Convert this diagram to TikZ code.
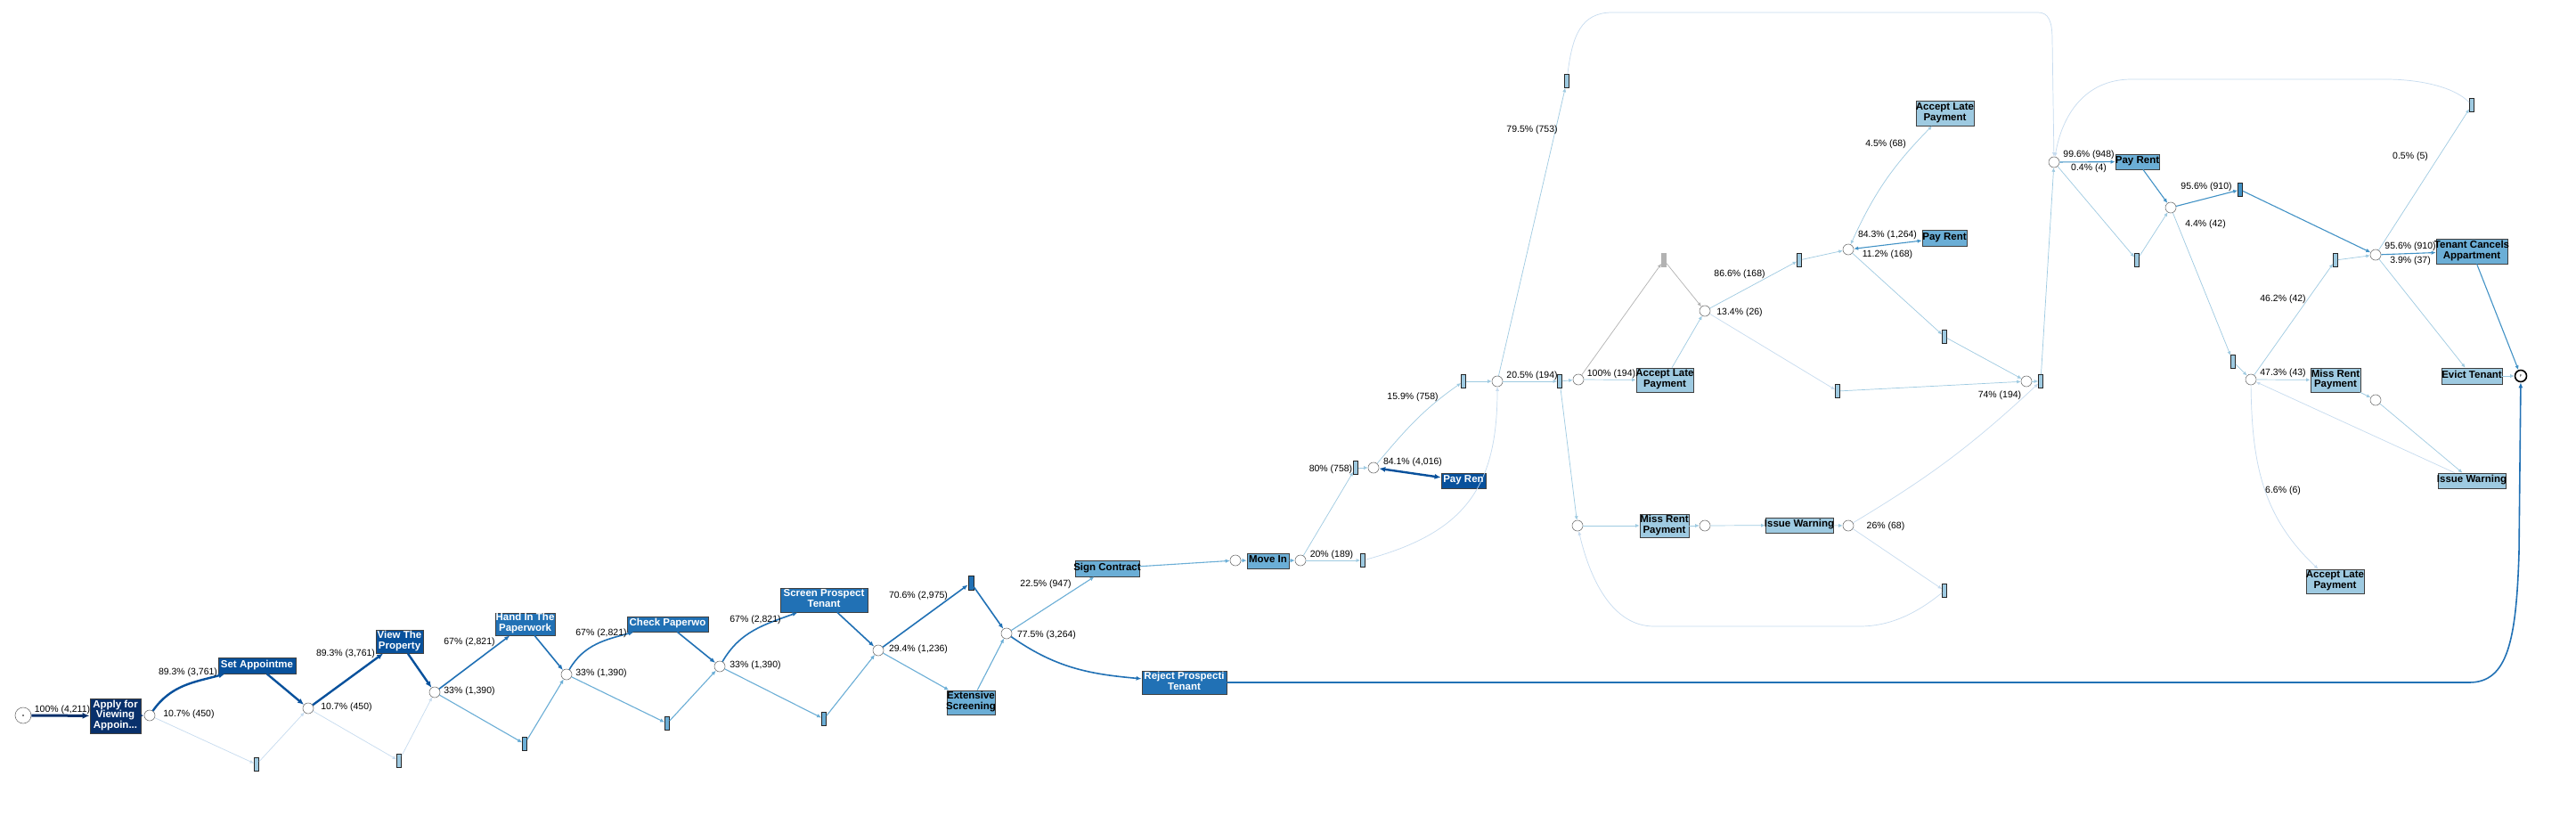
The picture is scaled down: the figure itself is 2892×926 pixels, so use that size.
\documentclass[tikz,border=0pt]{standalone}
\usepackage{fontspec}
\setmainfont{Liberation Sans}
\usetikzlibrary{arrows.meta}

\definecolor{cA}{HTML}{08306B}
\definecolor{cB}{HTML}{08519C}
\definecolor{cC}{HTML}{2171B5}
\definecolor{cD}{HTML}{4292C6}
\definecolor{cE}{HTML}{6BAED6}
\definecolor{cF}{HTML}{9ECAE1}
\definecolor{cG}{HTML}{C6DBEF}

\newcommand{\lblfont}{\fontsize{10.5}{12}\selectfont}
\newcommand{\taskfont}{\fontsize{11.5}{11.7}\selectfont\bfseries}
\newcommand{\tasktext}[1]{\makebox[0pt]{\begin{tabular}{@{}c@{}}#1\end{tabular}}}

\tikzset{
  place/.style={circle, draw=black!55, line width=0.6pt, fill=white, minimum size=12pt, inner sep=0pt},
  silent/.style={rectangle, draw=black!85, line width=0.7pt, minimum width=5pt, minimum height=15pt, inner sep=0pt},
  task/.style={rectangle, draw=black!75, line width=0.8pt, inner sep=0pt, font=\taskfont},
  lbl/.style={inner sep=0pt, font=\lblfont},
  edgeA/.style={draw=cA, line width=3pt, ->, >={Latex[length=8pt,width=7pt]}},
  edgeB/.style={draw=cB, line width=2.4pt, ->, >={Latex[length=7pt,width=6pt]}},
  edgeC/.style={draw=cC, line width=1.6pt, ->, >={Latex[length=6pt,width=5pt]}},
  edgeD/.style={draw=cD, line width=1.1pt, ->, >={Latex[length=5pt,width=4.5pt]}},
  edgeE/.style={draw=cE, line width=1.1pt, ->, >={Latex[length=5pt,width=4.5pt]}},
  edgeF/.style={draw=cF, line width=0.7pt, ->, >={Latex[length=4.5pt,width=4pt]}},
  edgeG/.style={draw=cG, line width=0.7pt, ->, >={Latex[length=4.5pt,width=4pt]}},
  edgeH/.style={draw=black!30, line width=0.7pt, ->, >={Latex[length=4.5pt,width=4pt]}}
}

\begin{document}
\begin{tikzpicture}[x=1pt,y=1pt]
\fill[white] (0,0) rectangle (2892,-926);
\useasboundingbox (0,0) rectangle (2892,-926);

\node[place, minimum size=18pt] (start) at (26,-803) {};
\fill[black] (start.center) circle (0.9);
\node[place] (p1) at (168,-803) {};
\node[place] (p2) at (346,-795) {};
\node[place] (p3) at (488,-777) {};
\node[place] (p4) at (636,-757) {};
\node[place] (p5) at (808,-748) {};
\node[place] (p6) at (986,-730) {};
\node[place] (p7) at (1130,-711) {};
\node[place] (pm) at (1387,-629) {};
\node[place] (p8) at (1460,-629) {};
\node[place] (p9) at (1542,-525) {};
\node[place] (p10) at (1681,-428) {};
\node[place] (p11) at (1772,-426) {};
\node[place] (p12) at (1771,-590) {};
\node[place] (p13) at (2306,-182) {};
\node[place] (p14) at (1914,-349) {};
\node[place] (p15) at (2075,-280) {};
\node[place] (p16) at (2275,-428) {};
\node[place] (p17) at (1914,-590) {};
\node[place] (p18) at (2075,-590) {};
\node[place] (p19) at (2437,-233) {};
\node[place] (p20) at (2667,-286) {};
\node[place] (p21) at (2527,-426) {};
\node[place] (p22) at (2667,-449) {};
\node[place, draw=black, line width=1.6pt, minimum size=13pt] (end) at (2830,-422) {\fontsize{4}{4}\selectfont F};

\node[silent, fill=cF] (ta1) at (288,-858) {};
\node[silent, fill=cF] (ta2) at (448,-854) {};
\node[silent, fill=cE] (ta3) at (589,-835) {};
\node[silent, fill=cE] (ta4) at (749,-812) {};
\node[silent, fill=cE] (ta5) at (925,-807) {};
\node[silent, fill=cC, minimum width=6pt, minimum height=16pt] (ta6) at (1090,-654) {};
\node[silent, fill=cF] (ta7) at (1530,-629) {};
\node[silent, fill=cF] (ta8) at (1522,-525) {};
\node[silent, fill=cF] (ta9) at (1643,-428) {};
\node[silent, fill=cF] (ta10) at (1751,-428) {};
\node[silent, fill=cF] (ta11) at (1759,-91) {};
\node[silent, fill=black!30, draw=black!30] (tgray) at (1868,-292) {};
\node[silent, fill=cF] (ta12) at (2020,-292) {};
\node[silent, fill=cF] (ta13) at (2183,-378) {};
\node[silent, fill=cF] (ta14) at (2063,-439) {};
\node[silent, fill=cF] (ta15) at (2291,-428) {};
\node[silent, fill=cF] (ta16) at (2183,-663) {};
\node[silent, fill=cD] (ta17) at (2515,-213) {};
\node[silent, fill=cF] (ta18) at (2399,-292) {};
\node[silent, fill=cF] (ta19) at (2775,-118) {};
\node[silent, fill=cF] (ta20) at (2622,-292) {};
\node[silent, fill=cF] (ta21) at (2507,-406) {};

\node[task, fill=cA, text=white, minimum width=57pt, minimum height=39pt] (apply) at (129.5,-803.5) {\tasktext{Apply for\\Viewing\\Appoin...}};
\node[task, fill=cB, text=white, minimum width=87pt, minimum height=18pt] (setapp) at (288.5,-747) {\tasktext{Set Appointme}};
\node[task, fill=cB, text=white, minimum width=53pt, minimum height=26pt] (view) at (448.5,-720) {\tasktext{View The\\Property}};
\node[task, fill=cC, text=white, minimum width=67pt, minimum height=25pt] (handin) at (589.5,-700.5) {\tasktext{Hand In The\\Paperwork}};
\node[task, fill=cC, text=white, minimum width=91pt, minimum height=17pt] (check) at (749.5,-700.5) {\tasktext{Check Paperwo}};
\node[task, fill=cC, text=white, minimum width=98pt, minimum height=27pt] (screen) at (925,-673.5) {\tasktext{Screen Prospect\\Tenant}};
\node[task, fill=cE, minimum width=54pt, minimum height=27pt] (extensive) at (1090,-788.5) {\tasktext{Extensive\\Screening}};
\node[task, fill=cC, text=white, minimum width=95pt, minimum height=26pt] (reject) at (1329.5,-766) {\tasktext{Reject Prospecti\\Tenant}};
\node[task, fill=cE, minimum width=72pt, minimum height=18pt] (sign) at (1243,-638) {\tasktext{Sign Contract}};
\node[task, fill=cE, minimum width=47pt, minimum height=17pt] (movein) at (1423.5,-629.5) {\tasktext{Move In}};
\node[task, fill=cB, text=white, minimum width=50pt, minimum height=17pt] (payren) at (1643,-539.5) {\tasktext{Pay Ren}};
\node[task, fill=cF, minimum width=64pt, minimum height=27pt] (accept1) at (1869,-426.5) {\tasktext{Accept Late\\Payment}};
\node[task, fill=cF, minimum width=65pt, minimum height=28pt] (accept2) at (2183.5,-127) {\tasktext{Accept Late\\Payment}};
\node[task, fill=cE, minimum width=50pt, minimum height=18pt] (payrent2) at (2183,-267) {\tasktext{Pay Rent}};
\node[task, fill=cF, minimum width=55pt, minimum height=26pt] (missrent1) at (1868.5,-590) {\tasktext{Miss Rent\\Payment}};
\node[task, fill=cF, minimum width=76pt, minimum height=17pt] (warn1) at (2020,-589.5) {\tasktext{Issue Warning}};
\node[task, fill=cE, minimum width=49pt, minimum height=17pt] (payrent3) at (2399.5,-181.5) {\tasktext{Pay Rent}};
\node[task, fill=cE, minimum width=80pt, minimum height=28pt] (cancel) at (2775,-282) {\tasktext{Tenant Cancels\\Appartment}};
\node[task, fill=cF, minimum width=56pt, minimum height=27pt] (missrent2) at (2622,-426.5) {\tasktext{Miss Rent\\Payment}};
\node[task, fill=cF, minimum width=68pt, minimum height=18pt] (evict) at (2775,-422) {\tasktext{Evict Tenant}};
\node[task, fill=cF, minimum width=76pt, minimum height=17pt] (warn2) at (2775,-539.5) {\tasktext{Issue Warning}};
\node[task, fill=cF, minimum width=65pt, minimum height=27pt] (accept3) at (2621.5,-652.5) {\tasktext{Accept Late\\Payment}};

\draw[edgeA] (start) -- (apply);
\draw[edgeA] (apply) -- (p1);
\draw[edgeB] (p1) to[out=55,in=195] ([xshift=8pt]setapp.south west);
\draw[edgeG] (p1) -- (ta1);
\draw[edgeB] (setapp) -- (p2);
\draw[edgeG] (ta1) -- (p2);
\draw[edgeB] (p2) -- (view);
\draw[edgeG] (p2) -- (ta2);
\draw[edgeB] (view) -- (p3);
\draw[edgeG] (ta2) -- (p3);
\draw[edgeC] (p3) -- (handin);
\draw[edgeE] (p3) -- (ta3);
\draw[edgeC] (handin) -- (p4);
\draw[edgeE] (ta3) -- (p4);
\draw[edgeC] (p4) to[out=60,in=195] ([xshift=8pt]check.south west);
\draw[edgeE] (p4) -- (ta4);
\draw[edgeC] (check) -- (p5);
\draw[edgeE] (ta4) -- (p5);
\draw[edgeC] (p5) to[out=60,in=200] ([xshift=20pt]screen.south west);
\draw[edgeE] (p5) -- (ta5);
\draw[edgeC] (screen) -- (p6);
\draw[edgeE] (ta5) -- (p6);
\draw[edgeC] (p6) -- (ta6);
\draw[edgeE] (p6) -- (extensive);
\draw[edgeC] (ta6) -- (p7);
\draw[edgeE] (extensive) -- (p7);
\draw[edgeE] (p7) -- (sign);
\draw[edgeC] (p7) to[out=-35,in=175] (reject);
\draw[edgeE] (sign) -- (pm);
\draw[edgeE] (pm) -- (movein);
\draw[edgeE] (movein) -- (p8);
\draw[edgeF] (p8) -- (ta8);
\draw[edgeF] (p8) -- (ta7);
\draw[edgeF] (ta8) -- (p9);
\draw[edgeB, <->] (p9) -- (payren);
\draw[edgeF] (p9) to[out=50,in=215] (ta9);
\draw[edgeF] (ta9) -- (p10);
\draw[edgeG] (ta7) to[out=15,in=-90,looseness=1.2] (p10);
\draw[edgeF] (p10) -- (ta11);
\draw[edgeF] (p10) -- (ta10);
\draw[edgeG] (ta11) .. controls (1765,-40) and (1775,-14) .. (1810,-14) -- (2288,-14) .. controls (2300,-14) and (2304,-24) .. (2304,-45) -- (p13);
\draw[edgeF] (ta10) -- (p11);
\draw[edgeF] (ta10) -- (p12);
\draw[edgeF] (p11) -- (accept1);
\draw[edgeH] (p11) -- (tgray);
\draw[edgeH] (tgray) -- (p14);
\draw[edgeF] (accept1) -- (p14);
\draw[edgeF] (p14) -- (ta12);
\draw[edgeG] (p14) -- (ta14);
\draw[edgeF] (ta12) -- (p15);
\draw[edgeD, <->] (p15) -- (payrent2);
\draw[edgeF, <->] (p15) to[bend left=10] (accept2);
\draw[edgeF] (p15) -- (ta13);
\draw[edgeF] (ta13) -- (p16);
\draw[edgeF] (ta14) -- (p16);
\draw[edgeF] (p16) -- (ta15);
\draw[edgeF] (ta15) -- (p13);
\draw[edgeF] (p12) -- (missrent1);
\draw[edgeF] (missrent1) -- (p17);
\draw[edgeF] (p17) -- (warn1);
\draw[edgeF] (warn1) -- (p18);
\draw[edgeG] (p18) to[bend right=6] (ta15);
\draw[edgeG] (p18) -- (ta16);
\draw[edgeG] (ta16) .. controls (2150,-690) and (2120,-703) .. (2088,-703) -- (1857,-703) .. controls (1810,-703) and (1785,-650) .. (p12);
\draw[edgeD] (p13) -- (payrent3);
\draw[edgeF] (p13) -- (ta18);
\draw[edgeD] (payrent3) -- (p19);
\draw[edgeF] (ta18) -- (p19);
\draw[edgeD] (p19) -- (ta17);
\draw[edgeF] (p19) -- (ta21);
\draw[edgeD] (ta17) -- (p20);
\draw[edgeF] (ta20) -- (p20);
\draw[edgeD] (p20) -- (cancel);
\draw[edgeF] (p20) -- (evict);
\draw[edgeF] (p20) -- (ta19);
\draw[edgeG] (ta19) .. controls (2755,-97) and (2715,-89) .. (2678,-89) -- (2393,-89) .. controls (2340,-89) and (2315,-130) .. (p13);
\draw[edgeD] (cancel) -- (end);
\draw[edgeF] (evict) -- (end);
\draw[edgeF] (ta21) -- (p21);
\draw[edgeF] (p21) -- (missrent2);
\draw[edgeF] (p21) -- (ta20);
\draw[edgeG] (p21) .. controls (2528,-520) and (2540,-580) .. ([xshift=-19pt]accept3.north);
\draw[edgeF] (missrent2) -- (p22);
\draw[edgeF] (p22) -- (warn2);
\draw[edgeG] (warn2) -- (p21);
\draw[edgeC] (reject) -- (2772,-766) .. controls (2815,-766) and (2825,-720) .. (2828,-620) -- (end);

\node[lbl] (l1) at (70,-797) {100\% (4,211)};
\node[lbl] (l2) at (211,-755) {89.3\% (3,761)};
\node[lbl] (l3) at (212,-802) {10.7\% (450)};
\node[lbl] (l4) at (389,-794) {10.7\% (450)};
\node[lbl] (l5) at (388,-734) {89.3\% (3,761)};
\node[lbl] (l6) at (527,-776) {33\% (1,390)};
\node[lbl] (l7) at (527,-721) {67\% (2,821)};
\node[lbl] (l8) at (675,-756) {33\% (1,390)};
\node[lbl] (l9) at (675,-711) {67\% (2,821)};
\node[lbl] (l10) at (848,-747) {33\% (1,390)};
\node[lbl] (l11) at (848,-696) {67\% (2,821)};
\node[lbl] (l12) at (1031,-729) {29.4\% (1,236)};
\node[lbl] (l13) at (1031,-669) {70.6\% (2,975)};
\node[lbl] (l14) at (1175,-713) {77.5\% (3,264)};
\node[lbl] (l15) at (1174,-656) {22.5\% (947)};
\node[lbl] (l16) at (1495,-623) {20\% (189)};
\node[lbl] (l17) at (1494,-527) {80\% (758)};
\node[lbl] (l18) at (1586,-519) {84.1\% (4,016)};
\node[lbl] (l19) at (1586,-446) {15.9\% (758)};
\node[lbl] (l20) at (1720,-422) {20.5\% (194)};
\node[lbl] (l21) at (1720,-146) {79.5\% (753)};
\node[lbl] (l22) at (1809,-420) {100\% (194)};
\node[lbl] (l23) at (1953,-351) {13.4\% (26)};
\node[lbl] (l24) at (1953,-308) {86.6\% (168)};
\node[lbl] (l25) at (2119,-264) {84.3\% (1,264)};
\node[lbl] (l26) at (2119,-286) {11.2\% (168)};
\node[lbl] (l27) at (2117,-162) {4.5\% (68)};
\node[lbl] (l28) at (2245,-444) {74\% (194)};
\node[lbl] (l29) at (2117,-591) {26\% (68)};
\node[lbl] (l30) at (2345,-174) {99.6\% (948)};
\node[lbl] (l31) at (2345,-189) {0.4\% (4)};
\node[lbl] (l32) at (2477,-210) {95.6\% (910)};
\node[lbl] (l33) at (2476,-252) {4.4\% (42)};
\node[lbl] (l34) at (2706,-176) {0.5\% (5)};
\node[lbl] (l35) at (2706,-277) {95.6\% (910)};
\node[lbl] (l36) at (2706,-293) {3.9\% (37)};
\node[lbl] (l37) at (2563,-336) {46.2\% (42)};
\node[lbl] (l38) at (2563,-419) {47.3\% (43)};
\node[lbl] (l39) at (2563,-551) {6.6\% (6)};

\end{tikzpicture}
\end{document}
